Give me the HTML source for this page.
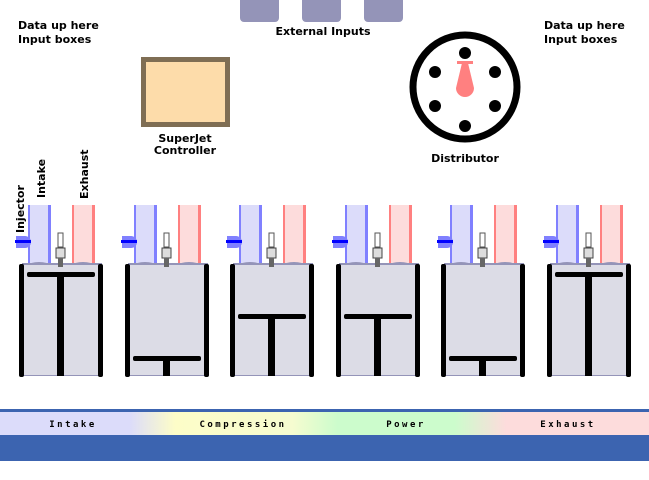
<!DOCTYPE html>
<html><head><meta charset="utf-8">
<style>
html,body{margin:0;padding:0;background:#fff;width:649px;height:480px;overflow:hidden}
svg{display:block}
text{font-family:"DejaVu Sans","Liberation Sans",sans-serif;font-weight:bold;font-size:11px;fill:#000}
.mono{font-family:"DejaVu Sans Mono","Liberation Mono",monospace;font-size:9px;letter-spacing:2.5px}
</style></head>
<body>
<svg id="s" width="649" height="480" viewBox="0 0 649 480">
<defs>
<linearGradient id="phase" x1="0" x2="1">
<stop offset="0" stop-color="#dcdcfa"/><stop offset="0.2" stop-color="#dcdcfa"/>
<stop offset="0.27" stop-color="#fdfdc8"/><stop offset="0.45" stop-color="#f6fcd0"/>
<stop offset="0.52" stop-color="#ccfccc"/><stop offset="0.7" stop-color="#ccfccc"/>
<stop offset="0.78" stop-color="#fddcdc"/><stop offset="1" stop-color="#fddcdc"/>
</linearGradient>
</defs>
<g>
<rect x="240" y="-5" width="39" height="27" rx="4" fill="#9494b8"/>
<rect x="302" y="-5" width="39" height="27" rx="4" fill="#9494b8"/>
<rect x="364" y="-5" width="39" height="27" rx="4" fill="#9494b8"/>
<text x="323" y="35" text-anchor="middle">External Inputs</text>
</g>
<text x="18" y="29">Data up here</text>
<text x="18" y="43">Input boxes</text>
<text x="544" y="29">Data up here</text>
<text x="544" y="43">Input boxes</text>
<g>
<rect x="143.5" y="59.5" width="84" height="65" fill="#fddcaa" stroke="#7f6e54" stroke-width="5"/>
<text x="185" y="142" text-anchor="middle">SuperJet</text>
<text x="185" y="154" text-anchor="middle">Controller</text>
</g>
<g>
<circle cx="465" cy="87" r="52" fill="#fff" stroke="#000" stroke-width="7"/>
<circle cx="465" cy="53" r="6"/><circle cx="435" cy="72" r="6"/><circle cx="495" cy="72" r="6"/>
<circle cx="435" cy="106" r="6"/><circle cx="495" cy="106" r="6"/><circle cx="465" cy="126" r="6"/>
<g fill="#ff8080">
<rect x="457" y="61" width="16" height="3"/>
<path d="M462,63 L468,63 L474,88 A9,9 0 1 1 456,88 Z"/>
</g>
<text x="465" y="162" text-anchor="middle">Distributor</text>
</g>
<g>
<text transform="translate(24,233) rotate(-90)">Injector</text>
<text transform="translate(45,198) rotate(-90)">Intake</text>
<text transform="translate(88,199) rotate(-90)">Exhaust</text>
</g>
<g id="cyls"></g>
<g>
<rect x="0" y="409" width="649" height="3" fill="#3c64b0"/>
<rect x="0" y="412" width="649" height="23" fill="url(#phase)"/>
<rect x="0" y="435" width="649" height="26" fill="#3c64b0"/>
<text class="mono" x="73" y="427" text-anchor="middle">Intake</text>
<text class="mono" x="243" y="427" text-anchor="middle">Compression</text>
<text class="mono" x="406" y="427" text-anchor="middle">Power</text>
<text class="mono" x="568" y="427" text-anchor="middle">Exhaust</text>
</g>
</svg>
<script>
const cylinderIds = [1, 2, 3, 4, 5, 6];
const pistonHeights = [1.0, 0.0, 0.5, 0.5, 0.0, 1.0]; // 1 = top dead centre, 0 = bottom
const NS = "http://www.w3.org/2000/svg";
const g = document.getElementById("cyls");
function mk(tag, attrs, parent) {
  const e = document.createElementNS(NS, tag);
  for (const k in attrs) e.setAttribute(k, attrs[k]);
  parent.appendChild(e);
  return e;
}
function xOf(i) { return 20 + i * 105.6; }
function pistonY(h) { return 358 - h * 84; }
cylinderIds.forEach((id, i) => {
  const x = Math.round(xOf(i));
  const c = mk("g", {}, g);
  
  
  mk("rect", {x: x + 8, y: 205, width: 22, height: 60, fill: "#dcdcfa"}, c);
  mk("rect", {x: x + 8, y: 205, width: 2, height: 60, fill: "#8080ff"}, c);
  mk("rect", {x: x + 28, y: 205, width: 3, height: 60, fill: "#8080ff"}, c);
  mk("rect", {x: x + 52, y: 205, width: 22, height: 60, fill: "#fddcdc"}, c);
  mk("rect", {x: x + 52, y: 205, width: 2, height: 60, fill: "#ff8080"}, c);
  mk("rect", {x: x + 72, y: 205, width: 3, height: 60, fill: "#ff8080"}, c);
  mk("ellipse", {cx: x + 19, cy: 265, rx: 10, ry: 3, fill: "#9494b8"}, c);
  mk("ellipse", {cx: x + 63, cy: 265, rx: 10, ry: 3, fill: "#9494b8"}, c);
  mk("path", {d: `M${x-4},236 h9 a6,6 0 0 1 0,12 h-9 z`, fill: "#8080ff"}, c);
  mk("rect", {x: x - 5, y: 240, width: 16, height: 3, fill: "#0000ff"}, c);
  mk("rect", {x: x + 2, y: 264, width: 80, height: 112, fill: "#dcdce6"}, c);
  mk("rect", {x: x + 2, y: 263, width: 80, height: 2, fill: "#9494b8"}, c);
  mk("rect", {x: x + 2, y: 375, width: 80, height: 1, fill: "#9494b8"}, c);
  mk("rect", {x: x - 1, y: 264, width: 5, height: 113, rx: 2, fill: "#000"}, c);
  mk("rect", {x: x + 78, y: 264, width: 5, height: 113, rx: 2, fill: "#000"}, c);
  mk("rect", {x: x + 38, y: 233, width: 5, height: 14, fill: "#fff", stroke: "#555", "stroke-width": 1}, c);
  mk("rect", {x: x + 36, y: 248, width: 9, height: 10, fill: "#ddd", stroke: "#444", "stroke-width": 1}, c);
  mk("rect", {x: x + 38, y: 258, width: 5, height: 9, fill: "#666"}, c);
  const py = pistonY(pistonHeights[i]);
  const p = mk("g", {}, c);
  
  
  mk("rect", {x: x + 7, y: py - 2, width: 68, height: 5, rx: 2, fill: "#000"}, p);
  mk("rect", {x: x + 37, y: py, width: 7, height: 376 - py, fill: "#000"}, p);
});
</script>
</body></html>
